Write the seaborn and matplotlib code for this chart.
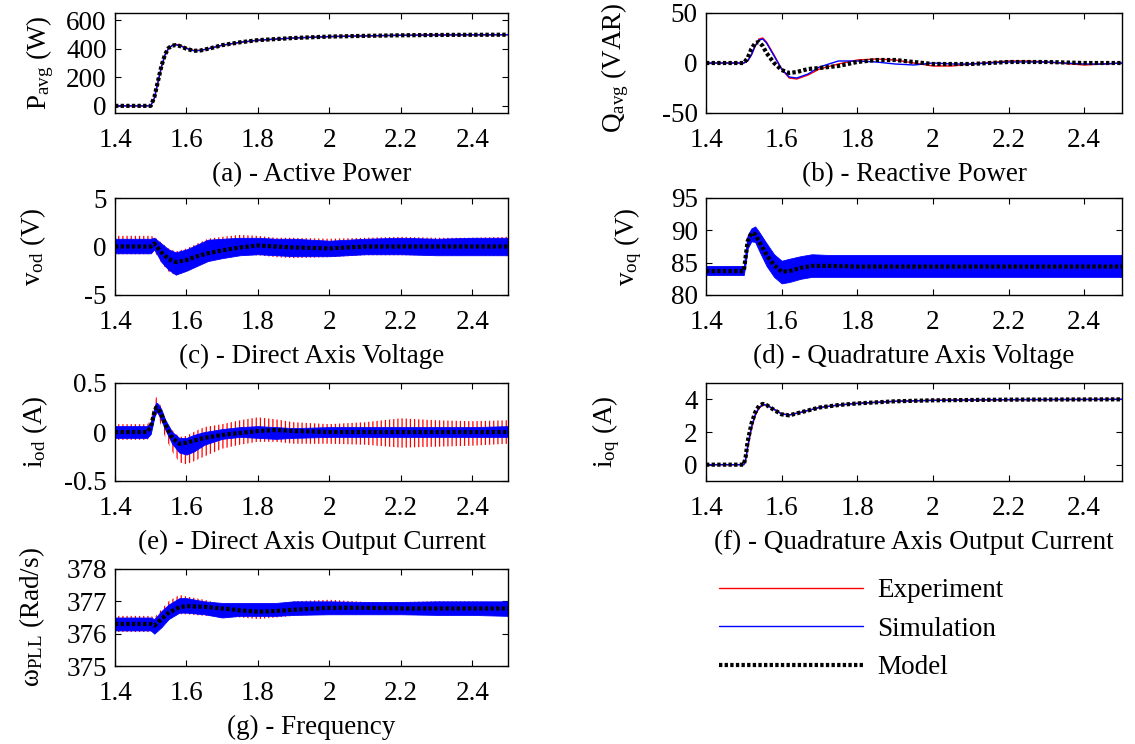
import numpy as np
import pandas as pd
import matplotlib
matplotlib.use("Agg")
import matplotlib.pyplot as plt
import seaborn as sns

# ---------------- data ----------------
# (a) active power
t_p = [1.40, 1.50, 1.51, 1.52, 1.53, 1.54, 1.55, 1.56, 1.57, 1.58, 1.60, 1.62, 1.64, 1.67, 1.70, 1.75, 1.80, 1.90, 2.00, 2.10, 2.20, 2.35, 2.50]
p_model = [0, 0, 60, 170, 280, 360, 405, 422, 425, 420, 400, 385, 388, 405, 425, 445, 460, 475, 485, 490, 494, 497, 498]
p_exp = [0, 0, 50, 160, 270, 355, 402, 424, 430, 426, 405, 388, 389, 405, 424, 444, 459, 475, 485, 490, 494, 497, 498]
p_sim = [0, 0, 55, 165, 275, 358, 404, 422, 426, 422, 402, 386, 388, 405, 425, 445, 460, 475, 485, 490, 494, 497, 498]

# (b) reactive power
t_q = [1.40, 1.50, 1.51, 1.52, 1.53, 1.54, 1.55, 1.56, 1.58, 1.60, 1.62, 1.64, 1.67, 1.70, 1.75, 1.80, 1.85, 1.90, 1.95, 2.00, 2.05, 2.10, 2.20, 2.25, 2.30, 2.40, 2.45, 2.50]
q_model = [0, 0, 5, 14, 20, 21, 17, 10, 0, -7, -10, -9, -6, -5, -3, 1, 3, 3, 1, -1, -1, -1, 1, 1, 1, 0, 0, 0]
q_exp = [0, 0, 2, 8, 17, 24, 25, 21, 8, -6, -15, -16, -12, -6, -1, 3, 4, 3, 0, -3, -3, -1, 2, 2, 1, -2, -1, 0]
q_sim = [0, 0, 2, 8, 17, 23, 24, 20, 7, -6, -14, -15, -11, -4, 2, 2, 1, -1, -2, 0, -1, -1, 1, 1, 1, -1, -1, 0]

# (c) direct axis voltage (ripple envelopes)
t_vd = [1.40, 1.50, 1.51, 1.53, 1.55, 1.57, 1.60, 1.63, 1.66, 1.70, 1.75, 1.80, 1.85, 1.90, 2.00, 2.10, 2.20, 2.30, 2.40, 2.50]
vd_model = [0, 0, 0.3, -0.6, -1.3, -1.6, -1.4, -1.0, -0.7, -0.4, -0.1, 0.1, 0.0, -0.1, -0.2, 0.0, 0.0, 0.0, 0.0, 0.0]
vd_sim_hi = [0.8, 0.8, 0.9, 0.3, -0.3, -0.6, -0.3, 0.2, 0.7, 0.8, 0.9, 0.9, 0.8, 0.8, 0.6, 0.8, 0.9, 0.8, 0.9, 0.9]
vd_sim_lo = [-0.7, -0.7, -0.3, -1.6, -2.4, -2.9, -2.5, -2.0, -1.5, -1.2, -0.9, -0.8, -0.9, -1.0, -1.0, -0.8, -0.8, -0.9, -0.9, -0.9]
vd_exp_hi = [1.1, 1.1, 1.0, 0.4, -0.2, -0.5, -0.2, 0.3, 0.8, 1.0, 1.2, 1.1, 0.9, 0.9, 0.8, 0.9, 1.0, 0.9, 0.9, 1.0]
vd_exp_lo = [-0.8, -0.8, -0.5, -1.7, -2.6, -3.0, -2.6, -2.0, -1.5, -1.1, -0.9, -0.9, -1.1, -1.2, -1.1, -0.9, -0.9, -0.9, -0.9, -1.0]

# (d) quadrature axis voltage
t_vq = [1.40, 1.50, 1.505, 1.51, 1.52, 1.53, 1.54, 1.56, 1.58, 1.60, 1.62, 1.65, 1.68, 1.72, 1.80, 2.00, 2.50]
vq_model = [83.7, 83.7, 86.0, 88.3, 89.6, 89.4, 88.3, 86.2, 84.6, 83.6, 83.7, 84.2, 84.5, 84.5, 84.4, 84.4, 84.4]
vq_sim_hi = [84.5, 84.5, 87.0, 89.2, 90.3, 90.6, 89.8, 88.0, 86.3, 85.3, 85.6, 86.0, 86.3, 86.2, 86.2, 86.2, 86.2]
vq_sim_lo = [83.1, 83.1, 85.0, 87.2, 88.3, 88.2, 86.9, 84.5, 82.8, 81.8, 82.0, 82.5, 82.8, 82.8, 82.8, 82.8, 82.8]
vq_exp_hi = [84.3, 84.3, 86.8, 89.0, 90.1, 90.4, 89.6, 87.8, 86.1, 85.1, 85.4, 85.8, 86.1, 86.0, 86.0, 86.0, 86.0]
vq_exp_lo = [83.0, 83.0, 85.1, 87.3, 88.4, 88.3, 87.0, 84.6, 82.9, 82.0, 82.2, 82.6, 82.9, 82.9, 82.9, 82.9, 82.9]

# (e) direct axis output current
t_id = [1.40, 1.49, 1.50, 1.51, 1.515, 1.52, 1.53, 1.54, 1.56, 1.58, 1.60, 1.62, 1.65, 1.70, 1.75, 1.80, 1.85, 1.90, 2.00, 2.10, 2.20, 2.30, 2.40, 2.50]
id_model = [0, 0, 0.05, 0.20, 0.25, 0.24, 0.18, 0.08, -0.06, -0.12, -0.11, -0.09, -0.06, -0.03, -0.01, 0.01, 0.02, 0.01, 0.0, 0.0, 0.0, 0.0, 0.0, 0.0]
id_sim_hi = [0.06, 0.06, 0.10, 0.25, 0.30, 0.29, 0.23, 0.13, 0.0, -0.06, -0.06, -0.03, 0.0, 0.03, 0.05, 0.06, 0.05, 0.04, 0.05, 0.05, 0.05, 0.05, 0.05, 0.06]
id_sim_lo = [-0.06, -0.06, -0.02, 0.15, 0.21, 0.19, 0.12, 0.03, -0.12, -0.21, -0.23, -0.20, -0.13, -0.07, -0.05, -0.06, -0.07, -0.06, -0.05, -0.05, -0.05, -0.05, -0.05, -0.05]
id_exp_hi = [0.08, 0.08, 0.12, 0.30, 0.36, 0.33, 0.25, 0.12, 0.02, -0.05, -0.04, 0.0, 0.05, 0.08, 0.12, 0.15, 0.13, 0.10, 0.08, 0.10, 0.14, 0.12, 0.11, 0.12]
id_exp_lo = [-0.08, -0.08, -0.04, 0.12, 0.18, 0.15, 0.06, -0.05, -0.20, -0.31, -0.33, -0.30, -0.25, -0.17, -0.13, -0.10, -0.10, -0.12, -0.12, -0.13, -0.16, -0.15, -0.14, -0.12]

# (f) quadrature axis output current
t_iq = [1.40, 1.50, 1.505, 1.51, 1.52, 1.53, 1.54, 1.55, 1.56, 1.58, 1.60, 1.62, 1.65, 1.70, 1.75, 1.80, 1.90, 2.00, 2.20, 2.50]
iq_model = [0, 0, 0.5, 1.4, 2.5, 3.2, 3.6, 3.72, 3.65, 3.35, 3.08, 3.02, 3.2, 3.5, 3.65, 3.75, 3.88, 3.94, 3.98, 4.0]
iq_exp = [0, 0, 0.3, 1.0, 2.2, 3.0, 3.45, 3.65, 3.65, 3.40, 3.12, 3.05, 3.2, 3.5, 3.65, 3.76, 3.88, 3.94, 3.98, 4.0]
iq_sim = [0, 0, 0.35, 1.1, 2.3, 3.05, 3.5, 3.68, 3.65, 3.38, 3.10, 3.04, 3.2, 3.5, 3.65, 3.75, 3.88, 3.94, 3.98, 4.0]

# (g) frequency
t_w = [1.40, 1.50, 1.51, 1.53, 1.55, 1.58, 1.60, 1.65, 1.70, 1.75, 1.80, 1.85, 1.90, 2.00, 2.10, 2.20, 2.30, 2.40, 2.50]
w_model = [376.3, 376.3, 376.25, 376.45, 376.65, 376.82, 376.85, 376.83, 376.78, 376.72, 376.68, 376.70, 376.74, 376.80, 376.80, 376.78, 376.78, 376.78, 376.78]
w_sim_hi = [376.5, 376.5, 376.45, 376.7, 376.9, 377.1, 377.1, 377.0, 376.95, 376.95, 376.95, 376.95, 377.0, 377.0, 376.98, 376.98, 377.0, 377.0, 377.0]
w_sim_lo = [376.1, 376.1, 376.0, 376.2, 376.45, 376.65, 376.65, 376.6, 376.5, 376.55, 376.55, 376.55, 376.58, 376.6, 376.6, 376.6, 376.58, 376.58, 376.55]
w_exp_hi = [376.55, 376.55, 376.5, 376.75, 377.0, 377.2, 377.15, 377.05, 376.9, 376.85, 376.85, 376.9, 377.0, 377.05, 376.98, 376.98, 377.0, 377.0, 376.95]
w_exp_lo = [376.05, 376.05, 376.05, 376.25, 376.5, 376.6, 376.6, 376.55, 376.55, 376.5, 376.45, 376.5, 376.55, 376.6, 376.6, 376.6, 376.6, 376.6, 376.55]

x_ticks = [1.4, 1.6, 1.8, 2.0, 2.2, 2.4]
x_ticklabels = ["1.4", "1.6", "1.8", "2", "2.2", "2.4"]
series_labels = ["Experiment", "Simulation", "Model"]

# ---------------- style ----------------
sns.set_theme(style="ticks")
FS = 19.5
plt.rcParams.update({
    "font.family": ["Liberation Serif", "DejaVu Serif"],
    "mathtext.fontset": "custom",
    "mathtext.rm": "Liberation Serif",
    "mathtext.it": "Liberation Serif:italic",
    "font.size": FS,
    "axes.labelsize": FS,
    "xtick.labelsize": FS,
    "ytick.labelsize": FS,
    "xtick.direction": "in",
    "ytick.direction": "in",
    "xtick.top": True,
    "ytick.right": True,
    "xtick.major.size": 4,
    "ytick.major.size": 4,
    "xtick.major.width": 0.8,
    "ytick.major.width": 0.8,
    "xtick.major.pad": 11,
    "ytick.major.pad": 6,
    "axes.linewidth": 1.0,
    "axes.edgecolor": "black",
    "xtick.color": "black",
    "ytick.color": "black",
    "text.color": "black",
    "axes.labelcolor": "black",
    "hatch.linewidth": 0.9,
})

RED = "#ff0000"
BLUE = "#0000ff"
MODEL_KW = dict(color="black", lw=3.0, linestyle=(0, (0.8, 0.55)), zorder=4)

W, H = 1135, 744
fig = plt.figure(figsize=(W / 100, H / 100), dpi=100)


def make_ax(x0, x1, y0, y1):
    return fig.add_axes([x0 / W, 1 - y1 / H, (x1 - x0) / W, (y1 - y0) / H])


LX = (115, 508)
RX = (706, 1122)
ROWS = [(13, 113), (198, 295), (383, 481), (569, 666)]

ax_a = make_ax(*LX, *ROWS[0])
ax_b = make_ax(*RX, *ROWS[0])
ax_c = make_ax(*LX, *ROWS[1])
ax_d = make_ax(*RX, *ROWS[1])
ax_e = make_ax(*LX, *ROWS[2])
ax_f = make_ax(*RX, *ROWS[2])
ax_g = make_ax(*LX, *ROWS[3])


def lines3(ax, t, exp, sim, model):
    sns.lineplot(x=t, y=exp, ax=ax, color=RED, lw=1.0, zorder=2, label=series_labels[0])
    sns.lineplot(x=t, y=sim, ax=ax, color=BLUE, lw=1.0, zorder=3, label=series_labels[1])
    sns.lineplot(x=t, y=model, ax=ax, label=series_labels[2], **MODEL_KW)


def bands(ax, t, exp_lo, exp_hi, sim_lo, sim_hi, model):
    ax.fill_between(t, exp_lo, exp_hi, facecolor="none", edgecolor=RED,
                    hatch="||||", linewidth=0, zorder=1)
    ax.fill_between(t, sim_lo, sim_hi, facecolor=BLUE, edgecolor=BLUE,
                    linewidth=0.6, zorder=2)
    sns.lineplot(x=t, y=model, ax=ax, **MODEL_KW)


def finish(ax, ylim, yticks, ylabel, xlabel, label_x_px, col_x0, col_w, label_y=0.5):
    ax.set_xlim(1.4, 2.5)
    ax.set_ylim(*ylim)
    ax.set_xticks(x_ticks)
    ax.set_xticklabels(x_ticklabels)
    ax.set_yticks(yticks)
    ax.set_yticklabels([f"{v:g}" for v in yticks])
    ax.set_ylabel(ylabel)
    ax.yaxis.set_label_coords((label_x_px - col_x0) / col_w, label_y)
    ax.set_xlabel(xlabel, labelpad=6)
    if ax.get_legend() is not None:
        ax.get_legend().remove()
    for s in ax.spines.values():
        s.set_visible(True)


LW = LX[1] - LX[0]
RW = RX[1] - RX[0]

lines3(ax_a, t_p, p_exp, p_sim, p_model)
finish(ax_a, (-50, 650), [0, 200, 400, 600], r"P$_{\mathrm{avg}}$ (W)", "(a) - Active Power", 56, LX[0], LW)

lines3(ax_b, t_q, q_exp, q_sim, q_model)
finish(ax_b, (-50, 50), [-50, 0, 50], r"Q$_{\mathrm{avg}}$ (VAR)", "(b) - Reactive Power", 631, RX[0], RW, 0.45)

bands(ax_c, t_vd, vd_exp_lo, vd_exp_hi, vd_sim_lo, vd_sim_hi, vd_model)
finish(ax_c, (-5, 5), [-5, 0, 5], r"v$_{\mathrm{od}}$ (V)", "(c) - Direct Axis Voltage", 48, LX[0], LW)

bands(ax_d, t_vq, vq_exp_lo, vq_exp_hi, vq_sim_lo, vq_sim_hi, vq_model)
finish(ax_d, (80, 95), [80, 85, 90, 95], r"v$_{\mathrm{oq}}$ (V)", "(d) - Quadrature Axis Voltage", 644, RX[0], RW)

bands(ax_e, t_id, id_exp_lo, id_exp_hi, id_sim_lo, id_sim_hi, id_model)
finish(ax_e, (-0.5, 0.5), [-0.5, 0, 0.5], r"i$_{\mathrm{od}}$ (A)", "(e) - Direct Axis Output Current", 50, LX[0], LW)

lines3(ax_f, t_iq, iq_exp, iq_sim, iq_model)
finish(ax_f, (-1, 5), [0, 2, 4], r"i$_{\mathrm{oq}}$ (A)", "(f) - Quadrature Axis Output Current", 622, RX[0], RW)

bands(ax_g, t_w, w_exp_lo, w_exp_hi, w_sim_lo, w_sim_hi, w_model)
finish(ax_g, (375, 378), [375, 376, 377, 378], r"ω$_{\mathrm{PLL}}$ (Rad/s)", "(g) - Frequency", 47, LX[0], LW)

# legend in the empty bottom-right slot
handles = ax_a.get_lines()[:3]
fig.legend(handles, series_labels, loc="upper left",
           bbox_to_anchor=(719 / W, 1 - 578 / H), frameon=False,
           fontsize=FS, handlelength=5.3, handletextpad=0.55,
           labelspacing=0.5, borderpad=0, borderaxespad=0)

fig.savefig("out.png", dpi=100)
